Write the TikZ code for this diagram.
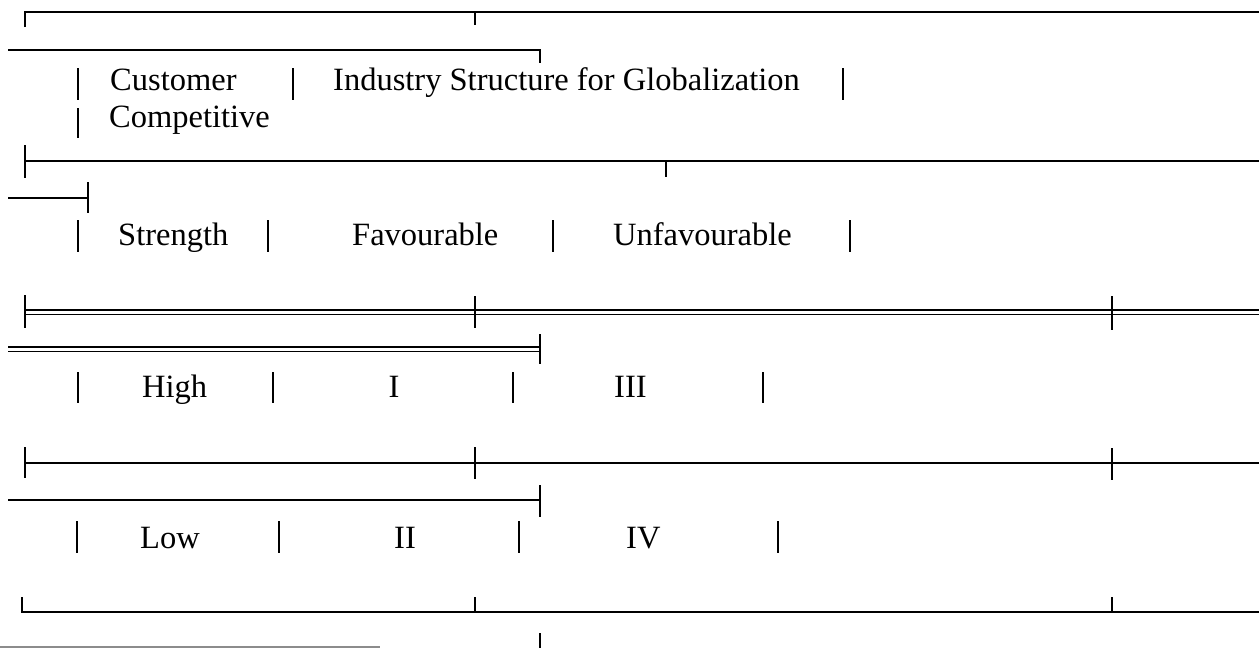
\documentclass[tikz,border=0pt]{standalone}
\usepackage{fontspec}
\setmainfont{Liberation Serif}
\begin{document}
\begin{tikzpicture}[x=1pt,y=-1pt,
  rule/.style={line width=1.8pt},
  drule/.style={line width=1.4pt},
  bar/.style={line width=1.8pt},
  faint/.style={line width=1.4pt,black!45},
  lbl/.style={inner sep=0pt,anchor=base west,font=\fontsize{32.5}{38}\selectfont},
  clbl/.style={inner sep=0pt,anchor=base,font=\fontsize{32.5}{38}\selectfont}]
\useasboundingbox (0,0) rectangle (1259,648);
% line 1
\draw[rule] (25,27) -- (25,12) -- (1259,12);
\draw[rule] (475,12) -- (475,25);
% line 2
\draw[rule] (8,50) -- (540,50) -- (540,63);
% row 1 / 2
\draw[bar] (78,68) -- (78,100);
\node[lbl] (cust) at (110,90) {Customer};
\draw[bar] (293,68) -- (293,100);
\node[lbl] (ind) at (333,90) {Industry Structure for Globalization};
\draw[bar] (843,68) -- (843,100);
\draw[bar] (78,108) -- (78,138);
\node[lbl] (comp) at (109,127) {Competitive};
% line 3
\draw[rule] (25,145) -- (25,178);
\draw[rule] (25,161) -- (1259,161);
\draw[rule] (666,161) -- (666,177);
% line 4
\draw[rule] (8,198) -- (88,198);
\draw[rule] (88,182) -- (88,213);
% row 3
\draw[bar] (78,220) -- (78,252);
\node[lbl] (str) at (118,245) {Strength};
\draw[bar] (268,220) -- (268,252);
\node[lbl] (fav) at (352,245) {Favourable};
\draw[bar] (553,220) -- (553,252);
\node[lbl] (unf) at (613,245) {Unfavourable};
\draw[bar] (850,220) -- (850,252);
% line 5 (double)
\draw[drule] (25,310) -- (1259,310);
\draw[drule] (25,314.5) -- (1259,314.5);
\draw[rule] (25,295) -- (25,328);
\draw[rule] (475,296) -- (475,328);
\draw[rule] (1112,296) -- (1112,330);
% line 6 (double)
\draw[drule] (8,347) -- (540,347);
\draw[drule] (8,351.5) -- (540,351.5);
\draw[rule] (540,334) -- (540,364);
% row 4
\draw[bar] (78,372) -- (78,403);
\node[lbl] (high) at (142,397) {High};
\draw[bar] (273,372) -- (273,403);
\node[clbl] (one) at (394,397) {I};
\draw[bar] (513,372) -- (513,403);
\node[lbl] (three) at (614,397) {III};
\draw[bar] (763,372) -- (763,403);
% line 7
\draw[rule] (25,463) -- (1259,463);
\draw[rule] (25,447) -- (25,478);
\draw[rule] (475,447) -- (475,479);
\draw[rule] (1112,448) -- (1112,480);
% line 8
\draw[rule] (8,500) -- (540,500);
\draw[rule] (540,485) -- (540,517);
% row 5
\draw[bar] (77,521) -- (77,553);
\node[lbl] (low) at (140,548) {Low};
\draw[bar] (279,521) -- (279,553);
\node[clbl] (two) at (405,548) {II};
\draw[bar] (519,521) -- (519,553);
\node[lbl] (four) at (626,548) {IV};
\draw[bar] (778,521) -- (778,553);
% line 9
\draw[rule] (22,597) -- (22,612) -- (1259,612);
\draw[rule] (475,597) -- (475,612);
\draw[rule] (1112,597) -- (1112,612);
% line 10
\draw[faint] (0,647) -- (380,647);
\draw[rule] (540,633) -- (540,648);
\end{tikzpicture}
\end{document}
